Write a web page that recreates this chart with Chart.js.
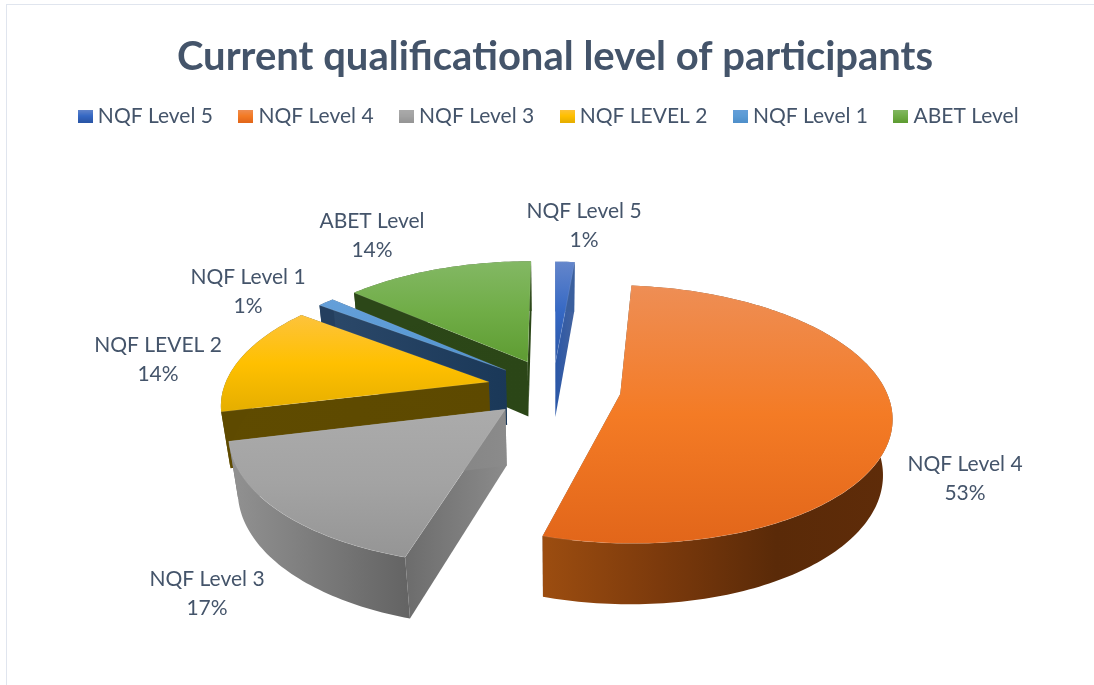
<!DOCTYPE html>
<html><head><meta charset="utf-8">
<style>
html,body{margin:0;padding:0;background:#fff;overflow:hidden}
#wrap{position:relative;width:1094px;height:685px}
#frame{position:absolute;left:6px;top:4px;width:1100px;height:700px;border:1.5px solid #e0e5ee;box-sizing:border-box}
canvas{position:absolute;left:0;top:0}
</style>
<script src="https://cdn.jsdelivr.net/npm/chart.js@4"></script>
</head><body><div id="wrap"><div id="frame"></div><canvas id="c" width="1094" height="685"></canvas></div>
<script>
// data
const categories = ['NQF Level 5','NQF Level 4','NQF Level 3','NQF LEVEL 2','NQF Level 1','ABET Level'];
const percentValues = [1.4,53.2,16.6,14.0,1.2,13.6];
const titleText = 'Current qualificational level of participants';

// style
const legendColors = ['#3e6bc0','#f27a27','#a5a5a5','#fdbf0c','#5b9bd5','#70ad47'];
const explode = [56,68,64,66,62,63];
const topStops = [
 ['#6486cb','#3568c4','#2a55a5'],['#ee8e55','#f47b25','#e2661a'],['#ababab','#a3a3a3','#959595'],
 ['#fdc33c','#ffc000','#e5ae00'],['#659fd9','#5b9bd5','#4f8fca'],['#83b864','#70ad47','#5e9c32']];
const outerStops = [
 ['#3a5f9e','#3a5f9e'],['#9c4d10','#7c3a0c','#5a2a08','#5f2c09'],['#929292','#636363'],
 ['#5e4a00','#5e4a00'],['#243f5f','#243f5f'],['#2c4718','#2c4718']];
const radialStops = [
 ['#2a57a8','#44639e'],['#5a2a08','#5a2a08'],['#6c6c6c','#8b8b8b'],
 ['#5f4b00','#5d4900'],['#2b4869','#1a3858'],['#2c4718','#2b4617']];
const labelSpots = [[584,226],[965,479],[207,594],[158,360],[248,292],[372,236]];
const textColor = '#44546a';
const bodyFont = 'Lato, Carlito, Calibri, sans-serif';

// pseudo-3D projection of the pie
const view = {cx:553, cy:388, rx:265, ry:124, a:0.156, b:0.028, h:57};
function project(X,Y,Z){
  const w = 1 - view.a*Y + view.b*Z;
  return [view.cx + view.rx*X/w, view.cy + (view.ry*Y + view.h*Z)/w];
}
function pathOf(ctx,pts){ctx.beginPath();pts.forEach((p,i)=>i?ctx.lineTo(p[0],p[1]):ctx.moveTo(p[0],p[1]));ctx.closePath();}
function hGrad(ctx,pts,stops){
  const xs=pts.map(p=>p[0]);const g=ctx.createLinearGradient(Math.min(...xs),0,Math.max(...xs)+.01,0);
  stops.forEach((c,i)=>g.addColorStop(i/(stops.length-1),c));return g;
}
function vGrad(ctx,pts,stops){
  const ys=pts.map(p=>p[1]);const g=ctx.createLinearGradient(0,Math.min(...ys),0,Math.max(...ys)+.01);
  stops.forEach((c,i)=>g.addColorStop(i/(stops.length-1),c));return g;
}
function swatch(stops){
  const c=document.createElement('canvas');c.width=15;c.height=13;
  const x=c.getContext('2d');x.fillStyle=vGrad(x,[[0,0],[0,13]],stops);x.fillRect(0,0,15,13);return c;
}
const swatches = topStops.map(swatch);
const pie3d = {
  id:'pie3d',
  afterLayout(chart){
    chart.titleBlock.left += 8; chart.titleBlock.right += 8;
    chart.legend.top -= 6.5; chart.legend.bottom -= 6.5;
    chart.legend.left += 4; chart.legend.right += 4;
  },
  beforeDatasetDraw(chart,args){
    const ctx = chart.ctx, arcs = args.meta.data;
    const parts = arcs.map((arc,i)=>{
      const {startAngle:s,endAngle:e} = arc.getProps(['startAngle','endAngle'],true);
      const mid=(s+e)/2, off=arc.options.offset/view.rx;
      return {i,s,e,ox:off*Math.cos(mid),oy:off*Math.sin(mid),depth:off*Math.sin(mid)+Math.sin(mid)};
    }).sort((p,q)=>p.depth-q.depth);
    ctx.save();
    for(const p of parts){
      const n=Math.max(4,Math.ceil((p.e-p.s)/0.02));
      const topRim=[],botRim=[];
      for(let k=0;k<=n;k++){
        const t=p.s+(p.e-p.s)*k/n, X=p.ox+Math.cos(t), Y=p.oy+Math.sin(t);
        topRim.push(project(X,Y,0)); botRim.push(project(X,Y,1));
      }
      const a0=project(p.ox,p.oy,0), a1=project(p.ox,p.oy,1);
      [[topRim[0],botRim[0]],[topRim[n],botRim[n]]].forEach(([t,b])=>{
        const q=[a0,t,b,a1]; pathOf(ctx,q);
        ctx.fillStyle=hGrad(ctx,q,radialStops[p.i]); ctx.fill();
      });
      const wall=topRim.concat(botRim.slice().reverse());
      pathOf(ctx,wall); ctx.fillStyle=hGrad(ctx,wall,outerStops[p.i]); ctx.fill();
      const face=[a0].concat(topRim);
      pathOf(ctx,face); ctx.fillStyle=vGrad(ctx,face,topStops[p.i]); ctx.fill();
      ctx.strokeStyle='rgba(255,255,255,.18)'; ctx.lineWidth=.6; ctx.stroke();
    }
    ctx.restore();
    return false;
  },
  afterDraw(chart){
    const ctx=chart.ctx, total=percentValues.reduce((a,b)=>a+b,0);
    ctx.save();
    ctx.fillStyle=textColor; ctx.font='21px '+bodyFont; ctx.textAlign='center'; ctx.textBaseline='middle';
    categories.forEach((c,i)=>{
      const [x,y]=labelSpots[i];
      ctx.fillText(c,x,y-14.5);
      ctx.fillText(Math.round(percentValues[i]/total*100)+'%',x,y+14.5);
    });
    ctx.restore();
  }
};
new Chart(document.getElementById('c'),{
  type:'pie',
  data:{labels:categories,datasets:[{data:percentValues,backgroundColor:legendColors,offset:explode,borderWidth:0}]},
  plugins:[pie3d],
  options:{
    responsive:false,animation:false,
    plugins:{
      tooltip:{enabled:false},
      title:{display:true,text:titleText,color:textColor,font:{family:bodyFont,size:40,weight:'bold'},padding:{top:33,bottom:0}},
      legend:{position:'top',labels:{
        usePointStyle:true,pointStyleWidth:4,boxHeight:13,padding:31,color:textColor,font:{family:bodyFont,size:21},
        generateLabels(chart){
          return Chart.overrides.pie.plugins.legend.labels.generateLabels(chart)
            .map((item,i)=>Object.assign(item,{pointStyle:swatches[i]}));
        }
      }}
    }
  }
});
</script></body></html>
